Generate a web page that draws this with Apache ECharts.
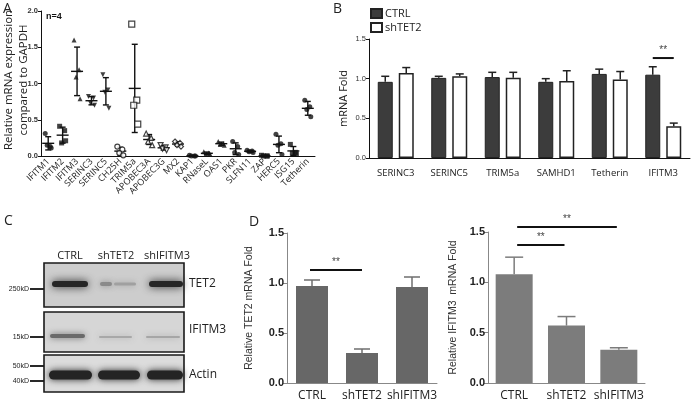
<!DOCTYPE html>
<html><head><meta charset="utf-8">
<script src="https://cdn.jsdelivr.net/npm/echarts@6/dist/echarts.min.js"></script>
<style>html,body{margin:0;padding:0;background:#fff}#c{width:696px;height:403px}</style>
</head><body><div id="c"></div>
<script>
// ---------- Panel A data ----------
const aCategories = ['IFITM1','IFITM2','IFITM3','SERINC3','SERINC5','CH25H','TRIM5a','APOBEC3A','APOBEC3G','MX2','KAP1','RNaseL','OAS1','PKR','SLFN11','ZAP','HERC5','ISG15','Tetherin'];
const aReplicates = [
  [0.31,0.13,0.15,0.11],
  [0.41,0.35,0.18,0.21],
  [1.60,1.19,1.09,0.79],
  [0.82,0.80,0.73,0.70],
  [1.12,0.91,0.88,0.66],
  [0.13,0.09,0.04,0.01],
  [1.82,0.77,0.70,0.44],
  [0.31,0.25,0.20,0.15],
  [0.15,0.12,0.10,0.08],
  [0.20,0.18,0.15,0.13],
  [0.01,0.00,0.00,0.00],
  [0.06,0.04,0.02,0.03],
  [0.20,0.17,0.16,0.15],
  [0.20,0.13,0.05,0.02],
  [0.08,0.07,0.06,0.05],
  [0.01,0.00,0.00,0.00],
  [0.30,0.17,0.15,0.02],
  [0.16,0.05,0.04,0.03],
  [0.77,0.68,0.64,0.54]
];
const aYTitle = ['Relative mRNA expression','compared to GAPDH'];

// ---------- Panel B data ----------
const bCategories = ['SERINC3','SERINC5','TRIM5a','SAMHD1','Tetherin','IFITM3'];
const bCtrl = [0.96,1.01,1.02,0.96,1.06,1.05];
const bCtrlErr = [0.07,0.02,0.06,0.04,0.06,0.10];
const bShTET2 = [1.07,1.03,1.01,0.97,0.99,0.40];
const bShTET2Err = [0.07,0.03,0.07,0.13,0.10,0.04];
const bSignif = [{cat:'IFITM3', y:1.26, text:'**'}];

// ---------- Panel D data ----------
const dCategories = ['CTRL','shTET2','shIFITM3'];
const dTet2 = [0.97,0.30,0.96];
const dTet2Err = [0.06,0.04,0.10];
const dIfitm3 = [1.08,0.57,0.33];
const dIfitm3Err = [0.17,0.09,0.02];
const dTet2Signif = [{from:'CTRL', to:'shTET2', y:1.13, text:'**'}];
const dIfitm3Signif = [{from:'CTRL', to:'shTET2', y:1.37, text:'**'},{from:'CTRL', to:'shIFITM3', y:1.55, text:'**'}];

// ---------- Panel C (western blot) labels ----------
const cLanes = ['CTRL','shTET2','shIFITM3'];
const cRows = ['TET2','IFITM3','Actin'];
const cMarkers = ['250kD','15kD','50kD','40kD'];

// ---------- styles ----------
const aSymbolStyle = [
  ['circle',0,true],['rect',0,true],['triangle',0,true],['triangle',180,true],['triangle',180,true],
  ['circle',0,false],['rect',0,false],['triangle',0,false],['triangle',180,false],['diamond',0,false],
  ['circle',0,true],['triangle',0,true],['triangle',0,true],['circle',0,true],['circle',0,true],
  ['rect',0,true],['circle',0,true],['rect',0,true],['circle',0,true]
];
const jitter = [-3,2,-1,3];

function mean(a){return a.reduce((s,v)=>s+v,0)/a.length;}
function sd(a){const m=mean(a);return Math.sqrt(a.reduce((s,v)=>s+(v-m)*(v-m),0)/(a.length-1));}

const aPoints = [];
aReplicates.forEach((reps,i)=>{
  const st = aSymbolStyle[i];
  reps.forEach((v,j)=>{
    aPoints.push({
      value:[i,v], symbol:st[0], symbolRotate:st[1], symbolOffset:[jitter[j],0],
      symbolSize: st[0]==='rect' && !st[2] ? 6 : 5,
      itemStyle: st[2]?{color:'#111'}:{color:'#fff',borderColor:'#111',borderWidth:1.2}
    });
  });
});
const aStats = aReplicates.map((r,i)=>[i, mean(r), sd(r)]);

function meanSdRender(params, api){
  const i=api.value(0), m=api.value(1), s=api.value(2);
  const pm=api.coord([i,m]), pt=api.coord([i,m+s]), pb=api.coord([i,Math.max(0,m-s)]);
  const x=pm[0], st={stroke:'#111',lineWidth:1.4};
  return {type:'group',children:[
    {type:'line',shape:{x1:x,y1:pt[1],x2:x,y2:pb[1]},style:st},
    {type:'line',shape:{x1:x-6,y1:pm[1],x2:x+6,y2:pm[1]},style:st},
    {type:'line',shape:{x1:x-3,y1:pt[1],x2:x+3,y2:pt[1]},style:st},
    {type:'line',shape:{x1:x-3,y1:pb[1],x2:x+3,y2:pb[1]},style:st}
  ]};
}
function errRender(dx, cap, color, lw){
  return function(params, api){
    const i=api.value(0), m=api.value(1), e=api.value(2);
    const p0=api.coord([i,m]), p1=api.coord([i,m+e]);
    const x=p0[0]+dx, st={stroke:color,lineWidth:lw};
    return {type:'group',children:[
      {type:'line',shape:{x1:x,y1:p0[1],x2:x,y2:p1[1]},style:st},
      {type:'line',shape:{x1:x-cap,y1:p1[1],x2:x+cap,y2:p1[1]},style:st}
    ]};
  };
}
function sigRender(dx1, dx2, fontSize){
  return function(params, api){
    const a=api.value(0), b=api.value(1), y=api.value(2);
    const p1=api.coord([a,y]), p2=api.coord([b,y]);
    return {type:'group',children:[
      {type:'line',shape:{x1:p1[0]+dx1,y1:p1[1],x2:p2[0]+dx2,y2:p2[1]},style:{stroke:'#111',lineWidth:2}},
      {type:'text',style:{text:'**',x:(p1[0]+dx1+p2[0]+dx2)/2,y:p1[1]-3,align:'center',verticalAlign:'bottom',
        fill:'#444',font:fontSize+'px "Liberation Sans"'}}
    ]};
  };
}

const sans='"Open Sans"';
const arial='"Liberation Sans"';

// ---------- western blot graphics ----------
const blot = [];
function rect(x,y,w,h,style,z){blot.push({type:'rect',shape:{x:x,y:y,width:w,height:h},style:style,z:z||1});}
function band(x,y,w,h,c,blur){blot.push({type:'rect',shape:{x:x,y:y-h/2,width:w,height:h,r:h/2},
  style:{fill:c,shadowColor:c,shadowBlur:blur},z:3});}
const boxes=[[44,263,140,44,'#cdcdcd'],[44,312,140,40,'#d6d6d6'],[44,355,140,37,'#dcdcdc']];
boxes.forEach(b=>rect(b[0],b[1],b[2],b[3],{fill:b[4]},2));
band(52,284,36,6,'#262626',8);
band(100,284,12,4,'#8a8a8a',6); band(114,284,22,3,'#a0a0a0',6);
band(149,284,34,6,'#262626',8);
band(50,336,35,4,'#6a6a6a',6);
band(99,337,33,2,'#a8a8a8',6);
band(146,337,34,2,'#a6a6a6',6);
band(49,375,43,9,'#242424',7);
band(98,375,42,9,'#242424',7);
band(147,375,36,9,'#242424',7);
boxes.forEach(b=>rect(b[0],b[1],b[2],b[3],{fill:'none',stroke:'#1a1a1a',lineWidth:1.6},5));
const markerY=[289,337,366,381];
cMarkers.forEach((m,k)=>{
  blot.push({type:'line',shape:{x1:30,y1:markerY[k],x2:44,y2:markerY[k]},style:{stroke:'#111',lineWidth:1.8},z:4});
  blot.push({type:'text',style:{text:m,x:29,y:markerY[k],align:'right',verticalAlign:'middle',fill:'#222',font:'7px '+arial},z:4});
});
const laneX=[70,116,167];
cLanes.forEach((l,k)=>blot.push({type:'text',style:{text:l,x:laneX[k],y:256,align:'center',verticalAlign:'middle',fill:'#222',font:'11px '+sans},z:4}));
const rowY=[284,330,375];
cRows.forEach((r,k)=>blot.push({type:'text',style:{text:r,x:189,y:rowY[k],align:'left',verticalAlign:'middle',fill:'#222',font:'12px '+sans},z:4}));
[['A',3,9],['B',333,9],['C',4,221],['D',249,222]].forEach(p=>blot.push({type:'text',style:{text:p[0],x:p[1],y:p[2],align:'left',verticalAlign:'middle',fill:'#222',font:'14px '+sans},z:4}));
blot.push({type:'text',style:{text:'n=4',x:46,y:17,align:'left',verticalAlign:'middle',fill:'#111',font:'bold 9px '+arial},z:4});
// Panel A y-axis title (two rotated lines)
[8.5,23.5].forEach((x,k)=>blot.push({type:'text',x:x,y:80,rotation:Math.PI/2,
  style:{text:aYTitle[k],x:0,y:0,align:'center',verticalAlign:'middle',fill:'#222',font:'11.5px '+sans},z:4}));

const catIdx=(cats,n)=>cats.indexOf(n);

const option = {
  animation:false,
  backgroundColor:'#fff',
  textStyle:{fontFamily:sans},
  legend:{
    left:365, top:3, orient:'vertical', itemGap:3, itemWidth:11, itemHeight:9, icon:'rect',
    textStyle:{fontSize:11, fontFamily:sans, color:'#222', padding:[0,0,0,-2]},
    data:['CTRL','shTET2']
  },
  grid:[
    {left:41, top:11, width:274, height:145},
    {left:369, top:39, width:321, height:119},
    {left:287, top:233, width:150, height:150},
    {left:488, top:232, width:157, height:151}
  ],
  xAxis:[
    {gridIndex:0, type:'category', data:aCategories, boundaryGap:true,
     axisLine:{lineStyle:{color:'#111',width:1}}, axisTick:{alignWithLabel:true,length:3,lineStyle:{color:'#111'}},
     axisLabel:{interval:0, hideOverlap:false, rotate:45, fontSize:9, margin:4, color:'#222', fontFamily:sans}},
    {gridIndex:1, type:'category', data:bCategories,
     axisLine:{lineStyle:{color:'#111'}}, axisTick:{show:false},
     axisLabel:{interval:0, hideOverlap:false, fontSize:9.5, margin:10, color:'#222', fontFamily:sans}},
    {gridIndex:2, type:'category', data:dCategories,
     axisLine:{lineStyle:{color:'#888'}}, axisTick:{alignWithLabel:true,length:4,lineStyle:{color:'#888'}},
     axisLabel:{interval:0, hideOverlap:false, fontSize:12, margin:7, color:'#222', fontFamily:sans}},
    {gridIndex:3, type:'category', data:dCategories,
     axisLine:{lineStyle:{color:'#888'}}, axisTick:{alignWithLabel:true,length:4,lineStyle:{color:'#888'}},
     axisLabel:{interval:0, hideOverlap:false, fontSize:12, margin:7, color:'#222', fontFamily:sans}}
  ],
  yAxis:[
    {gridIndex:0, type:'value', min:0, max:2, interval:0.5, splitLine:{show:false},
     axisLine:{show:true,lineStyle:{color:'#111'}}, axisTick:{show:true,length:3,lineStyle:{color:'#111'}},
     axisLabel:{fontSize:7.5, fontWeight:'bold', color:'#333', margin:3, fontFamily:arial, formatter:v=>v.toFixed(1)}},
    {gridIndex:1, type:'value', min:0, max:1.5, interval:0.5, splitLine:{show:false},
     axisLine:{show:true,lineStyle:{color:'#111'}}, axisTick:{show:true,length:3,lineStyle:{color:'#111'}},
     axisLabel:{fontSize:7.5, color:'#333', margin:3, fontFamily:arial, formatter:v=>v.toFixed(1)},
     name:'mRNA Fold', nameLocation:'middle', nameGap:20, nameRotate:90,
     nameTextStyle:{fontSize:11, color:'#222', fontFamily:sans}},
    {gridIndex:2, type:'value', min:0, max:1.5, interval:0.5, splitLine:{show:false},
     axisLine:{show:true,lineStyle:{color:'#888'}}, axisTick:{show:true,length:4,lineStyle:{color:'#888'}},
     axisLabel:{fontSize:11, fontWeight:'bold', color:'#222', margin:3, fontFamily:arial, formatter:v=>v.toFixed(1)},
     name:'Relative TET2 mRNA Fold', nameLocation:'middle', nameGap:32, nameRotate:90,
     nameTextStyle:{fontSize:10.5, color:'#333', fontFamily:arial}},
    {gridIndex:3, type:'value', min:0, max:1.5, interval:0.5, splitLine:{show:false},
     axisLine:{show:true,lineStyle:{color:'#888'}}, axisTick:{show:true,length:4,lineStyle:{color:'#888'}},
     axisLabel:{fontSize:11, fontWeight:'bold', color:'#222', margin:3, fontFamily:arial, formatter:v=>v.toFixed(1)},
     name:'Relative IFITM3  mRNA Fold', nameLocation:'middle', nameGap:29, nameRotate:90,
     nameTextStyle:{fontSize:10.5, color:'#333', fontFamily:arial}}
  ],
  series:[
    {type:'custom', xAxisIndex:0, yAxisIndex:0, renderItem:meanSdRender, data:aStats, z:3, clip:false},
    {type:'scatter', xAxisIndex:0, yAxisIndex:0, data:aPoints, z:4, clip:false},
    {name:'CTRL', type:'bar', xAxisIndex:1, yAxisIndex:1, data:bCtrl, barWidth:15, barGap:'40%',
     itemStyle:{color:'#3c3c3c', borderColor:'#222', borderWidth:1}},
    {name:'shTET2', type:'bar', xAxisIndex:1, yAxisIndex:1, data:bShTET2, barWidth:15, barGap:'40%',
     itemStyle:{color:'#fff', borderColor:'#222', borderWidth:1.5}},
    {type:'custom', xAxisIndex:1, yAxisIndex:1, renderItem:errRender(-10.5,4,'#222',1.5), z:1,
     data:bCtrl.map((v,i)=>[i,v,bCtrlErr[i]])},
    {type:'custom', xAxisIndex:1, yAxisIndex:1, renderItem:errRender(10.5,4,'#222',1.5), z:1,
     data:bShTET2.map((v,i)=>[i,v,bShTET2Err[i]])},
    {type:'custom', xAxisIndex:1, yAxisIndex:1, renderItem:sigRender(-10.5,10.5,10), clip:false,
     data:bSignif.map(s=>[catIdx(bCategories,s.cat),catIdx(bCategories,s.cat),s.y])},
    {type:'bar', xAxisIndex:2, yAxisIndex:2, data:dTet2, barWidth:32, itemStyle:{color:'#676767'}},
    {type:'custom', xAxisIndex:2, yAxisIndex:2, renderItem:errRender(0,8,'#6e6e6e',1.5), z:1,
     data:dTet2.map((v,i)=>[i,v,dTet2Err[i]])},
    {type:'custom', xAxisIndex:2, yAxisIndex:2, renderItem:sigRender(-2,0,10), clip:false,
     data:dTet2Signif.map(s=>[catIdx(dCategories,s.from),catIdx(dCategories,s.to),s.y])},
    {type:'bar', xAxisIndex:3, yAxisIndex:3, data:dIfitm3, barWidth:37, itemStyle:{color:'#7c7c7c'}},
    {type:'custom', xAxisIndex:3, yAxisIndex:3, renderItem:errRender(0,9,'#7c7c7c',1.5), z:1,
     data:dIfitm3.map((v,i)=>[i,v,dIfitm3Err[i]])},
    {type:'custom', xAxisIndex:3, yAxisIndex:3, renderItem:sigRender(3,-2,10), clip:false,
     data:dIfitm3Signif.map(s=>[catIdx(dCategories,s.from),catIdx(dCategories,s.to),s.y])}
  ],
  graphic:{elements:blot}
};
const chart = echarts.init(document.getElementById('c'), null, {renderer:'canvas'});
chart.setOption(option);
</script>
</body></html>
